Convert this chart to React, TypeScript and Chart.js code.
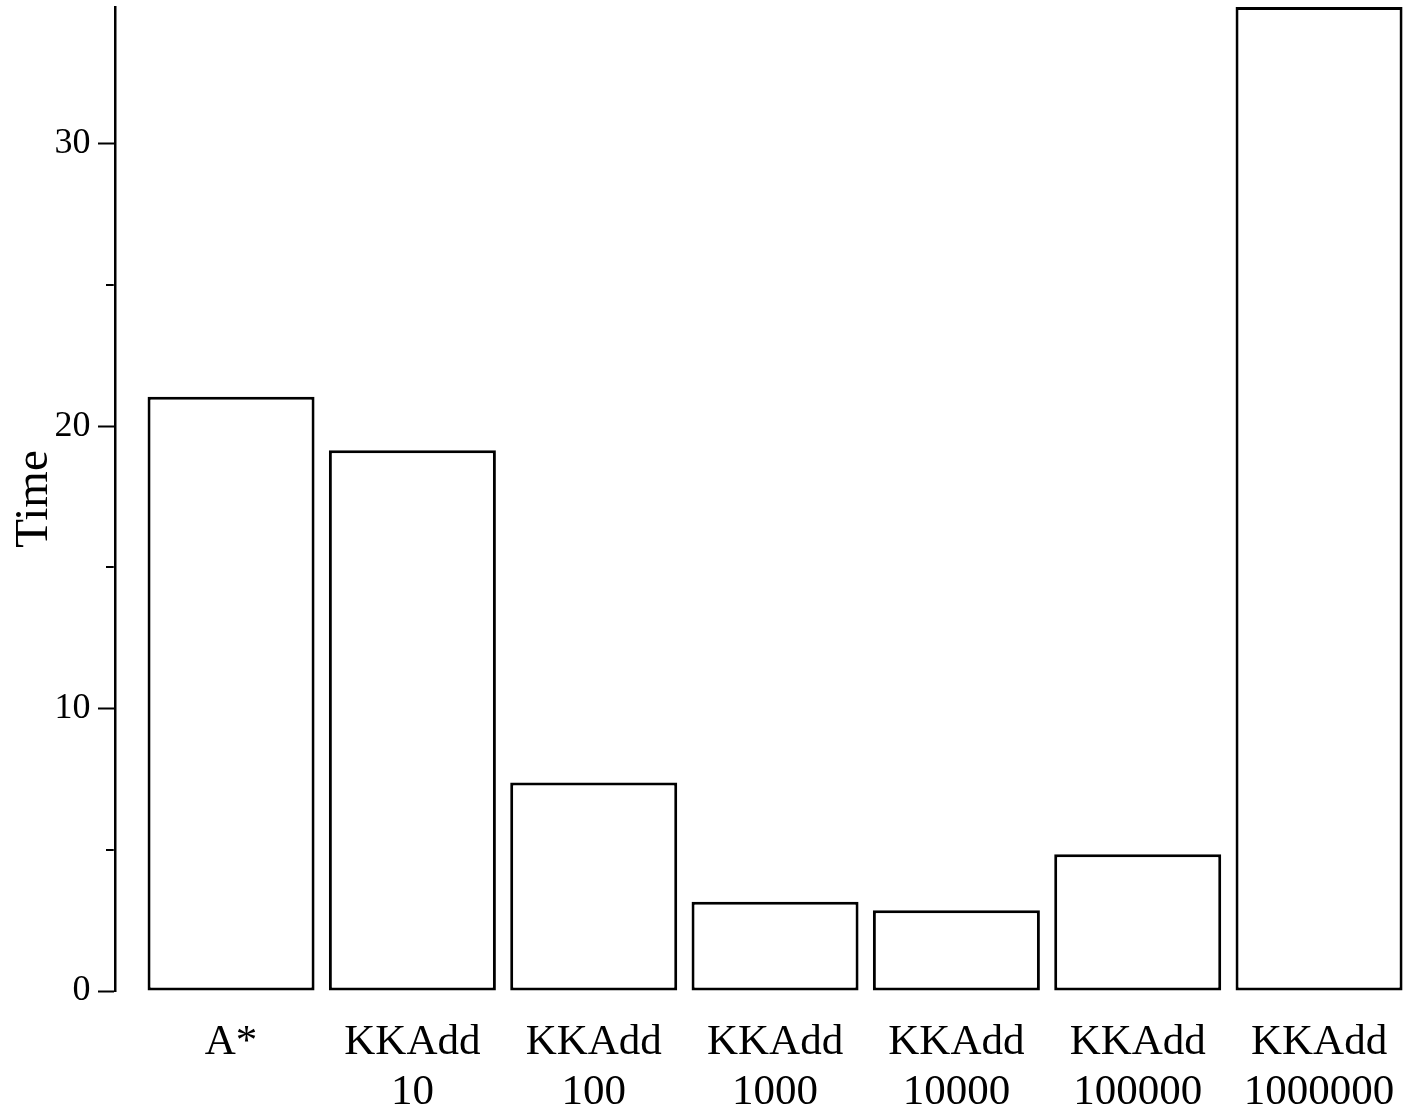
import React, { useEffect, useRef } from "react";
import { Chart, registerables } from "chart.js";

Chart.register(...registerables);

// ---- data ----
const categories: string[] = [
  "A*",
  "KKAdd 10",
  "KKAdd 100",
  "KKAdd 1000",
  "KKAdd 10000",
  "KKAdd 100000",
  "KKAdd 1000000",
];
const times: number[] = [21.05, 19.15, 7.38, 3.16, 2.86, 4.84, 34.85];
const yAxisTitle = "Time";
const yMajorStep = 10;
const yMinorStep = 5;

const labelLines = categories.map((c) => c.split(" "));
const FONT = "'Liberation Serif', 'Times New Roman', serif";

export default function App() {
  const ref = useRef<HTMLCanvasElement | null>(null);

  useEffect(() => {
    const canvas = ref.current;
    if (!canvas) return;

    const minorTicks = {
      id: "minorTicks",
      afterDraw(chart: any) {
        const y = chart.scales.y;
        const ctx = chart.ctx;
        ctx.save();
        ctx.strokeStyle = "#000";
        ctx.lineWidth = 2;
        y.ticks.forEach((t: any) => {
          if (Math.abs(t.value % yMajorStep) > 1e-9) {
            const py = Math.round(y.getPixelForValue(t.value));
            ctx.beginPath();
            ctx.moveTo(y.right - 9, py);
            ctx.lineTo(y.right - 1.25, py);
            ctx.stroke();
          }
        });
        ctx.restore();
      },
    };

    const chart = new Chart(canvas, {
      type: "bar",
      data: {
        datasets: [
          {
            data: times.map((v, i) => ({ x: i, y: v })),
            backgroundColor: "#ffffff",
            borderColor: "#000000",
            borderWidth: 3,
            borderSkipped: false,
            barPercentage: 0.921,
            categoryPercentage: 1,
          },
        ],
      },
      options: {
        responsive: false,
        animation: false,
        devicePixelRatio: 1,
        layout: { padding: { top: 7, left: 0, right: 0, bottom: 0 } },
        plugins: {
          legend: { display: false },
          tooltip: { enabled: false },
          title: { display: false },
        },
        scales: {
          x: {
            type: "linear",
            bounds: "data",
            offset: false,
            min: -0.64,
            max: 6.474,
            grid: { display: false, offset: false },
            border: { display: false },
            afterBuildTicks: (s: any) => {
              s.ticks = categories.map((_, i) => ({ value: i }));
            },
            afterFit: (s: any) => {
              s.height = 119;
              s.paddingLeft = 0;
              s.paddingRight = 0;
            },
            ticks: {
              autoSkip: false,
              maxRotation: 0,
              minRotation: 0,
              padding: 19,
              color: "#000",
              font: { family: FONT, size: 43, lineHeight: 50 / 43 },
              callback: (v: any) => labelLines[v] ?? "",
            },
          },
          y: {
            type: "linear",
            bounds: "data",
            min: 0,
            max: Math.max(...times),
            ticks: {
              stepSize: yMinorStep,
              includeBounds: false,
              padding: 7.5,
              color: "#000",
              font: { family: FONT, size: 36 },
              callback: (v: any) => (Math.abs(v % yMajorStep) < 1e-9 ? String(v) : ""),
            },
            grid: {
              drawOnChartArea: false,
              tickLength: 17,
              tickWidth: 2,
              tickColor: (ctx: any) =>
                ctx.tick && Math.abs(ctx.tick.value % yMajorStep) < 1e-9 ? "#000" : "rgba(0,0,0,0)",
            },
            border: { display: true, color: "#000", width: 2.5 },
            title: {
              display: true,
              text: yAxisTitle,
              color: "#000",
              font: { family: FONT, size: 47 },
              padding: { top: 6, bottom: 0 },
            },
            afterFit: (s: any) => {
              s.width = 115;
              s.paddingTop = 0;
              s.paddingBottom = 0;
            },
          },
        },
      } as any,
      plugins: [minorTicks],
    });

    return () => chart.destroy();
  }, []);

  return (
    <div
      style={{
        position: "fixed",
        left: 0,
        top: 0,
        width: 1405,
        height: 1110,
        background: "#fff",
        overflow: "hidden",
      }}
    >
      <canvas
        ref={ref}
        width={1405}
        height={1110}
        style={{ width: 1405, height: 1110, display: "block" }}
      />
    </div>
  );
}
